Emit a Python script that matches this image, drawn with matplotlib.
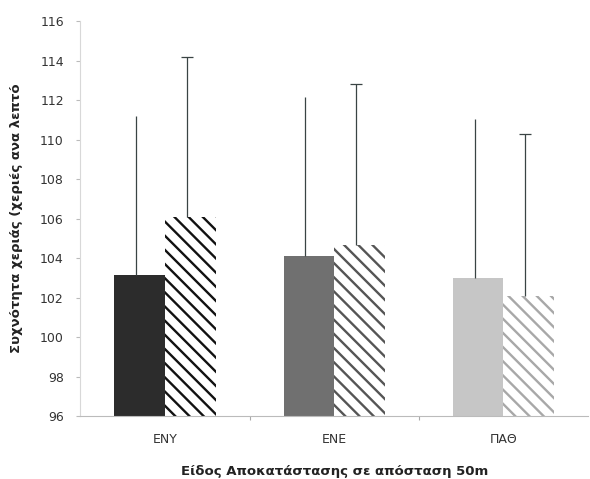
import matplotlib
matplotlib.use("Agg")
import matplotlib.pyplot as plt
import numpy as np

categories = ["ΕΝΥ", "ΕΝΕ", "ΠΑΘ"]
means_solid = [103.15, 104.1, 103.0]
sd_solid = [8.05, 8.05, 8.05]
means_hatch = [106.1, 104.65, 102.1]
sd_hatch = [8.1, 8.15, 8.2]
yticks = [96, 98, 100, 102, 104, 106, 108, 110, 112, 114, 116]

solid_colors = ["#2c2c2c", "#707070", "#c6c6c6"]
hatch_colors = ["#111111", "#555555", "#a8a8a8"]

DPI = 85
S = 100 / DPI  # keep sizes as if rendered at 100 dpi

plt.rcParams['font.family'] = ['DejaVu Sans']
plt.rcParams['hatch.linewidth'] = 2.0

fig = plt.figure(figsize=(590 / DPI, 479 / DPI), dpi=DPI)
ax = fig.add_axes([80.5/590, 1-416/479, (588-80.5)/590, (416-21)/479])

x = np.arange(len(categories)) + 0.5
w = 0.30
for i in range(len(categories)):
    ax.bar(x[i] - w/2, means_solid[i], width=w, color=solid_colors[i], edgecolor='none', zorder=2)
    ax.bar(x[i] + w/2, means_hatch[i], width=w, color='white', edgecolor=hatch_colors[i],
           hatch='\\\\', linewidth=0, zorder=2)
    ax.errorbar(x[i] - w/2 - 0.02, means_solid[i], yerr=[[0], [sd_solid[i]]], fmt='none',
                ecolor='#3a4444', elinewidth=0.9*S, capsize=0, zorder=3)
    eb = ax.errorbar(x[i] + w/2 - 0.02, means_hatch[i], yerr=[[0], [sd_hatch[i]]], fmt='none',
                     ecolor='#3a4444', elinewidth=0.9*S, capsize=4*S, capthick=0.9*S, zorder=3)
    for cl in eb[1]:
        yd = np.asarray(cl.get_ydata(), dtype=float)
        if np.allclose(yd, means_hatch[i]):
            cl.set_visible(False)

ax.set_xlim(0, 3)
ax.set_ylim(96, 116)
ax.set_yticks(yticks)
ax.set_yticklabels([str(v) for v in yticks], fontsize=9*S, color='#333333')
ax.set_xticks(x)
ax.set_xticklabels(categories, fontsize=9*S, color='#333333')
ax.tick_params(axis='x', length=0, pad=12*S)
ax.set_xticks([1, 2], minor=True)
ax.tick_params(axis='x', which='minor', length=3*S, width=0.8*S, color='#aaaaaa', direction='out')
ax.tick_params(axis='y', length=3*S, width=0.8*S, color='#bbbbbb', direction='out', pad=9*S)

for s in ['top', 'right']:
    ax.spines[s].set_visible(False)
ax.spines['left'].set_color('#d8d8d8')
ax.spines['bottom'].set_color('#bbbbbb')
ax.spines['left'].set_linewidth(0.8*S)
ax.spines['bottom'].set_linewidth(0.8*S)

ax.set_xlabel("Είδος Αποκατάστασης σε απόσταση 50m", fontsize=9.5*S, fontweight='bold',
              color='#222222', labelpad=14*S)
ax.set_ylabel("Συχνότητα χεριάς (χεριές ανα λεπτό", fontsize=9.5*S, fontweight='bold',
              color='#222222', labelpad=12*S)

fig.savefig("out.png", dpi=DPI, facecolor='white')
